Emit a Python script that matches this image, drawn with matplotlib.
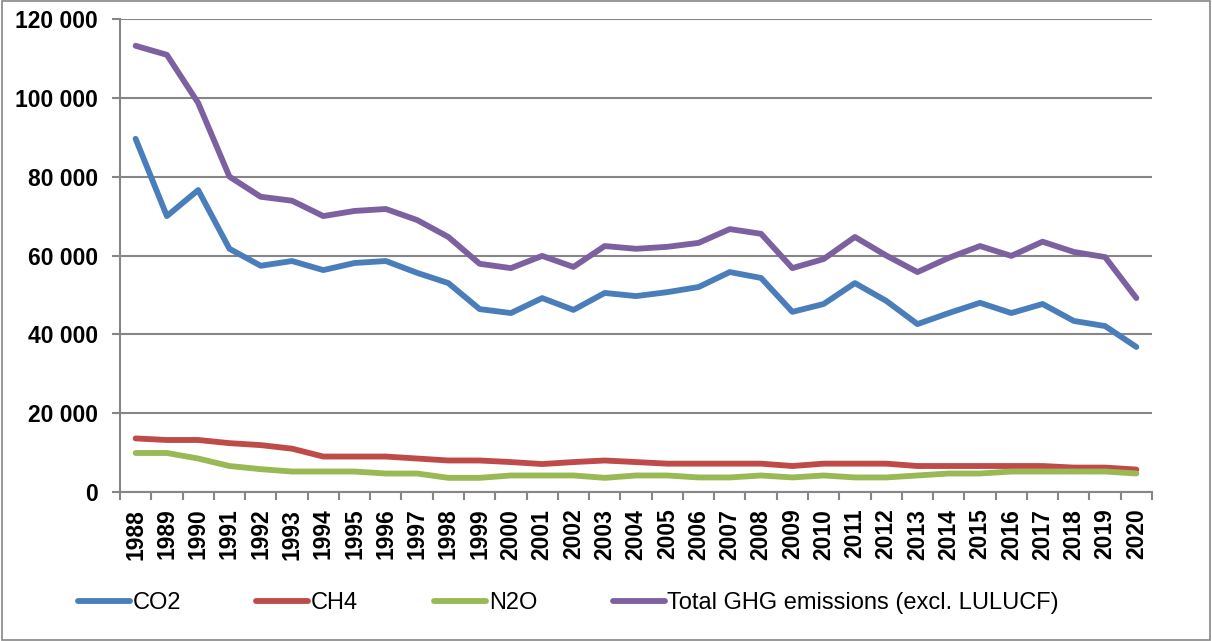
import matplotlib.pyplot as plt
from matplotlib.patches import Rectangle

years = list(range(1988, 2021))

co2 = [89600, 70000, 76600, 61700, 57400, 58600, 56300, 58100, 58600, 55600,
       53000, 46400, 45400, 49200, 46200, 50500, 49700, 50700, 52000, 55800,
       54300, 45700, 47700, 53000, 48500, 42600, 45400, 48000, 45400, 47700,
       43400, 42100, 36800]
ch4 = [13600, 13200, 13200, 12400, 11900, 11000, 9000, 9000, 9000, 8500,
       8000, 8000, 7600, 7100, 7600, 8000, 7600, 7200, 7200, 7200,
       7200, 6600, 7200, 7200, 7200, 6600, 6600, 6600, 6600, 6600,
       6200, 6200, 5700]
n2o = [9900, 9900, 8500, 6600, 5800, 5200, 5200, 5200, 4700, 4700,
       3600, 3600, 4200, 4200, 4200, 3600, 4200, 4200, 3700, 3700,
       4200, 3700, 4200, 3700, 3700, 4200, 4700, 4700, 5200, 5200,
       5200, 5200, 4700]
total = [113200, 110900, 98700, 80000, 74900, 73900, 70000, 71300, 71800, 69000,
         64700, 57900, 56800, 59900, 57100, 62400, 61700, 62200, 63200, 66700,
         65500, 56800, 59100, 64700, 60000, 55800, 59400, 62400, 59900, 63500,
         60900, 59600, 49200]

series = [("CO2", co2, "#4A7EBB"),
          ("CH4", ch4, "#BE4B48"),
          ("N2O", n2o, "#98B954"),
          ("Total GHG emissions (excl. LULUCF)", total, "#7D60A0")]

plt.rcParams['font.family'] = ['Liberation Sans', 'DejaVu Sans']
grid_col = "#868686"

fig = plt.figure(figsize=(12.12, 6.41), dpi=100)
ax = fig.add_axes([0.099, 0.2324, 0.8515, 0.738])

x = list(range(len(years)))
for name, vals, col in series:
    ax.plot(x, vals, color=col, lw=4.2, label=name, solid_capstyle='round')

ax.set_xlim(-0.5, len(years) - 0.5)
ax.set_ylim(0, 120000)
yt = list(range(0, 120001, 20000))
ax.set_yticks(yt)
ax.set_yticklabels(["0" if v == 0 else f"{v // 1000} 000" for v in yt],
                   fontsize=16.5, fontweight='bold')
ax.yaxis.grid(True, color=grid_col, lw=1.5)
ax.set_axisbelow(True)

# boundary ticks between years, labels centred on each year
ax.set_xticks([i - 0.5 for i in range(len(years) + 1)])
ax.set_xticklabels([])
ax.set_xticks(x, minor=True)
ax.set_xticklabels([str(y) for y in years], minor=True, rotation=90,
                   fontsize=16.5, fontweight='bold')
ax.tick_params(axis='x', which='major', length=6, color=grid_col, width=1.5)
ax.tick_params(axis='x', which='minor', length=0, pad=12)
ax.tick_params(axis='y', length=6, color=grid_col, width=1.5, pad=10)

for s in ['top', 'right']:
    ax.spines[s].set_visible(False)
for s in ['left', 'bottom']:
    ax.spines[s].set_color(grid_col)
    ax.spines[s].set_linewidth(1.5)

fig.legend(loc='center left', bbox_to_anchor=(0.064, 0.059), ncol=4,
           frameon=False, fontsize=17, handlelength=2.2, handletextpad=0.12,
           columnspacing=3.2, borderpad=0, borderaxespad=0)

fig.patches.append(Rectangle((0.002, 0.002), 0.996, 0.996, transform=fig.transFigure,
                             fill=False, edgecolor=grid_col, lw=1.2))

fig.savefig("out.png", dpi=100)
